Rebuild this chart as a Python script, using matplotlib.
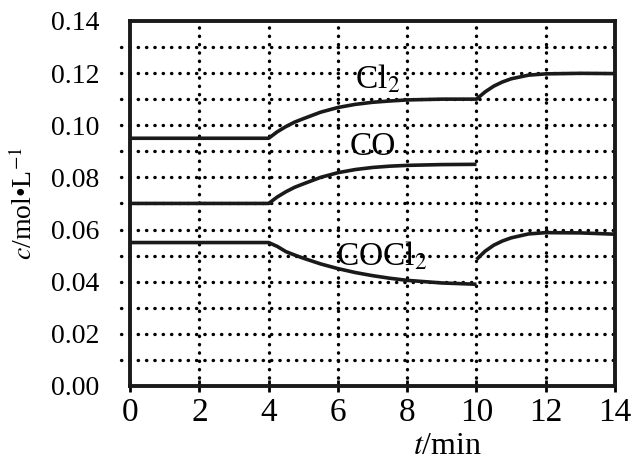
import matplotlib.pyplot as plt

plt.rcParams['font.family'] = ['Liberation Serif', 'DejaVu Serif']
plt.rcParams['mathtext.fontset'] = 'stix'

# Cl2 concentration vs time
t_cl2 = [0, 4, 4.25, 4.5, 4.75, 5, 5.5, 6, 6.5, 7, 7.5, 8, 9, 10,
         10.25, 10.5, 10.75, 11, 11.5, 12, 13, 14]
c_cl2 = [0.095, 0.095, 0.0975, 0.0995, 0.1012, 0.1025, 0.105, 0.1068, 0.108, 0.1088, 0.1093, 0.1097,
         0.1100, 0.1100, 0.1128, 0.1150, 0.1166, 0.1178, 0.1192, 0.1197, 0.1199, 0.1198]

# CO concentration (stops at t=10)
t_co = [0, 4, 4.25, 4.5, 4.75, 5, 5.5, 6, 6.5, 7, 7.5, 8, 9, 10]
c_co = [0.070, 0.070, 0.0725, 0.0745, 0.0762, 0.0775, 0.0800, 0.0818, 0.0830, 0.0838, 0.0843, 0.0846,
        0.0849, 0.0850]

# COCl2 concentration, before and after t=10
t_cocl2_a = [0, 4, 4.25, 4.5, 4.75, 5, 5.5, 6, 6.5, 7, 7.5, 8, 9, 10]
c_cocl2_a = [0.055, 0.055, 0.0535, 0.0515, 0.0502, 0.0490, 0.0468, 0.0450, 0.0435, 0.0423, 0.0413,
             0.0405, 0.0395, 0.0390]
t_cocl2_b = [10, 10.25, 10.5, 10.75, 11, 11.5, 12, 13, 14]
c_cocl2_b = [0.0485, 0.0517, 0.0540, 0.0556, 0.0568, 0.0583, 0.0588, 0.0587, 0.0582]

x_ticks = [0, 2, 4, 6, 8, 10, 12, 14]
y_ticks = [0.00, 0.02, 0.04, 0.06, 0.08, 0.10, 0.12, 0.14]
y_grid = [0.01, 0.02, 0.03, 0.04, 0.05, 0.06, 0.07, 0.08, 0.09, 0.10, 0.11, 0.12, 0.13]
x_grid = [2, 4, 6, 8, 10, 12]

fig = plt.figure(figsize=(6.38, 4.65), dpi=100)
ax = fig.add_axes([0.204, 0.170, 0.760, 0.785])

# dotted grid (round dots)
dot = dict(color='black', lw=2.4, ls=(0, (0.1, 2.4)), dash_capstyle='round', zorder=1)
for yv in y_grid:
    ax.plot([-0.25, 14], [yv, yv], clip_on=False, **dot)
for xv in x_grid:
    ax.plot([xv, xv], [0, 0.14], **dot)

line_kw = dict(color='#1a1a1a', lw=2.6, solid_capstyle='butt', solid_joinstyle='round', zorder=3)
ax.plot(t_cl2, c_cl2, **line_kw)
ax.plot(t_co, c_co, **line_kw)
ax.plot(t_cocl2_a, c_cocl2_a, **line_kw)
ax.plot(t_cocl2_b, c_cocl2_b, **line_kw)

ax.text(7.15, 0.1175, r'Cl$_2$', fontsize=24, ha='center', va='center', zorder=4)
ax.text(7.0, 0.0918, 'CO', fontsize=24, ha='center', va='center', zorder=4)
ax.text(7.25, 0.0497, r'COCl$_2$', fontsize=24, ha='center', va='center', zorder=4)

ax.set_xlim(0, 14)
ax.set_ylim(0, 0.14)
ax.set_xticks(x_ticks)
ax.set_xticklabels([str(v) for v in x_ticks], fontsize=24)
ax.set_yticks(y_ticks)
ax.set_yticklabels([f'{v:.2f}' for v in y_ticks], fontsize=20)
ax.tick_params(axis='x', direction='inout', length=8, width=2, pad=4)
ax.tick_params(axis='y', length=0, pad=22)
for sp in ax.spines.values():
    sp.set_linewidth(2.8)
    sp.set_color('#1a1a1a')

ax.set_xlabel(r'$t$/min', fontsize=23)
ax.xaxis.set_label_coords(0.655, -0.125)
ax.set_ylabel('$c$/mol\u2022L$^{-1}$', fontsize=20)
ax.yaxis.set_label_coords(-0.19, 0.5)

fig.savefig('out.png', dpi=100)
